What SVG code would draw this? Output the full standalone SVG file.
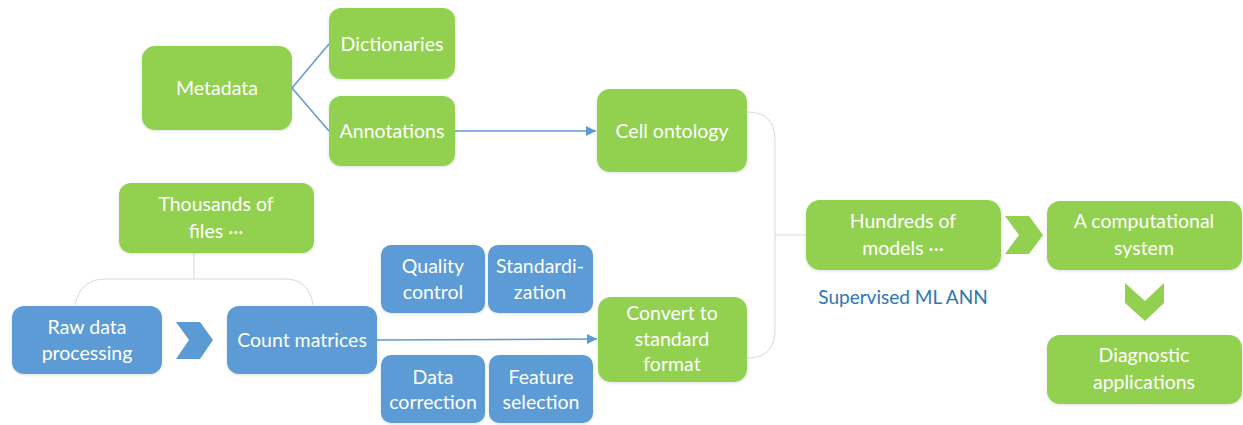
<svg xmlns="http://www.w3.org/2000/svg" width="1243" height="425" viewBox="0 0 1243 425">
<defs>
<style>
.g{fill:#92d050;}
.b{fill:#5b9bd5;}
.n rect{stroke:none;filter:url(#sh);}
.t{font-family:Lato,"Liberation Sans",sans-serif;font-size:19.5px;fill:#ffffff;text-anchor:middle;}
.c{fill:none;stroke:#5b9bd5;stroke-width:1.5;}
.br{fill:none;stroke:#d9d9d9;stroke-width:1;}
.lbl{font-family:Lato,"Liberation Sans",sans-serif;font-size:19px;fill:#2e75b6;text-anchor:middle;}
</style>
<filter id="sh" x="-10%" y="-10%" width="120%" height="130%">
<feDropShadow dx="0" dy="1" stdDeviation="1.5" flood-color="#000" flood-opacity="0.12"/>
</filter>
<marker id="ah" viewBox="0 0 10 10" refX="10" refY="5" markerWidth="11" markerHeight="10" markerUnits="userSpaceOnUse" orient="auto">
<path d="M0,0 L10,5 L0,10 z" fill="#5b9bd5"/>
</marker>
</defs>
<rect width="1243" height="425" fill="#ffffff"/>
<g id="connectors">
<path class="c" d="M292,88 L329,44"/>
<path class="c" d="M292,88 L329,131"/>
<path class="c" d="M455,131 L596,131" marker-end="url(#ah)"/>
<path class="c" d="M377,340 L597,339" marker-end="url(#ah)"/>
<path class="br" d="M194,253 L194,279"/>
<path class="br" d="M75,305 Q80,279 105,279 L285,279 Q309,279 313,305"/>
<path class="br" d="M747,112 Q775,112 775,140 L775,330 Q775,358 747,358"/>
<path class="br" d="M775,235 L806,235"/>
<polygon class="b" points="176,322 200,322 213,340 200,359 176,359 189,340"/>
<polygon class="g" points="1005,216 1029,216 1043,235 1029,254 1005,254 1019,235"/>
<polygon class="g" points="1125,283 1145,301 1164,283 1164,303 1145,321 1125,303"/>
</g>
<g id="metadata" class="n"><rect class="g" x="142" y="46" width="150" height="84" rx="13"/><text class="t" x="217" y="95">Metadata</text></g>
<g id="dictionaries" class="n"><rect class="g" x="329" y="8" width="126" height="71" rx="12"/><text class="t" x="392" y="51">Dictionaries</text></g>
<g id="annotations" class="n"><rect class="g" x="329" y="96" width="126" height="70" rx="12"/><text class="t" x="392" y="138">Annotations</text></g>
<g id="cell-ontology" class="n"><rect class="g" x="597" y="89" width="150" height="83" rx="13"/><text class="t" x="672" y="138">Cell ontology</text></g>
<g id="thousands" class="n"><rect class="g" x="119" y="183" width="195" height="70" rx="12"/><text class="t" x="216" y="211">Thousands of</text><text class="t" x="216" y="238">files ···</text></g>
<g id="raw-data" class="n"><rect class="b" x="12" y="306" width="150" height="68" rx="12"/><text class="t" x="87" y="334">Raw data</text><text class="t" x="87" y="360">processing</text></g>
<g id="count-matrices" class="n"><rect class="b" x="227" y="306" width="150" height="68" rx="12"/><text class="t" x="302" y="347">Count matrices</text></g>
<g id="quality-control" class="n"><rect class="b" x="381" y="245" width="104" height="68" rx="10"/><text class="t" x="433" y="273">Quality</text><text class="t" x="433" y="299">control</text></g>
<g id="standardization" class="n"><rect class="b" x="488" y="245" width="105" height="68" rx="10"/><text class="t" x="540" y="273">Standardi-</text><text class="t" x="540" y="299">zation</text></g>
<g id="data-correction" class="n"><rect class="b" x="381" y="355" width="104" height="68" rx="10"/><text class="t" x="433" y="384">Data</text><text class="t" x="433" y="409">correction</text></g>
<g id="feature-selection" class="n"><rect class="b" x="489" y="355" width="104" height="68" rx="10"/><text class="t" x="541" y="384">Feature</text><text class="t" x="541" y="409">selection</text></g>
<g id="convert" class="n"><rect class="g" x="598" y="297" width="149" height="85" rx="13"/><text class="t" x="672" y="320">Convert to</text><text class="t" x="672" y="346">standard</text><text class="t" x="672" y="371">format</text></g>
<g id="hundreds" class="n"><rect class="g" x="806" y="200" width="195" height="70" rx="14"/><text class="t" x="903" y="228">Hundreds of</text><text class="t" x="903" y="255">models ···</text></g>
<text class="lbl" x="903" y="304">Supervised ML ANN</text>
<g id="computational" class="n"><rect class="g" x="1047" y="201" width="195" height="69" rx="13"/><text class="t" x="1144" y="228">A computational</text><text class="t" x="1144" y="255">system</text></g>
<g id="diagnostic" class="n"><rect class="g" x="1047" y="335" width="195" height="69" rx="13"/><text class="t" x="1144" y="362">Diagnostic</text><text class="t" x="1144" y="389">applications</text></g>
</svg>
